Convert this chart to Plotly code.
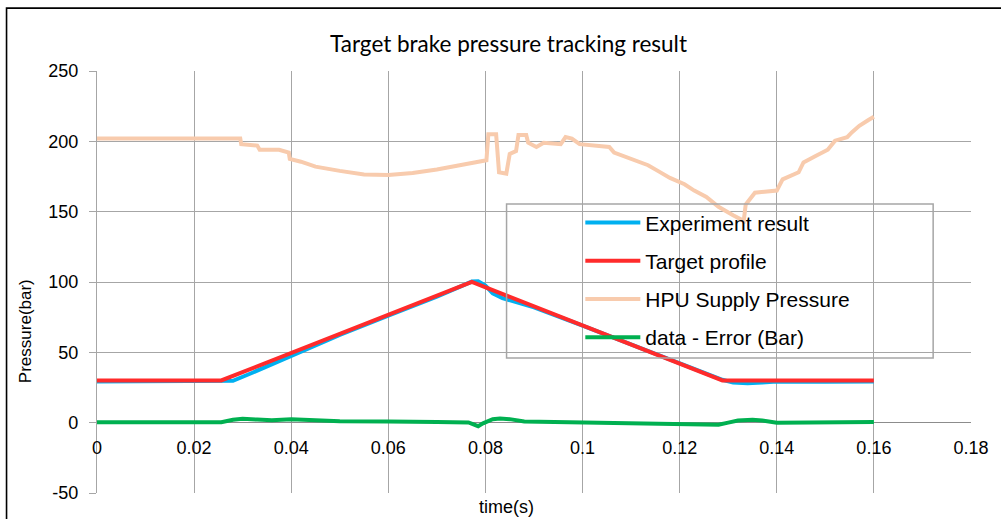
import plotly.graph_objects as go

# ---------------- data ----------------
target_t = [0.0, 0.0256, 0.0772, 0.1288, 0.16]
target_p = [30, 30, 100, 30, 30]

exp_t = [0.0, 0.0256, 0.028, 0.032, 0.036, 0.040, 0.045, 0.050, 0.060, 0.070, 0.0772,
         0.0785, 0.0800, 0.0815, 0.0835, 0.086, 0.090, 0.100, 0.110, 0.120, 0.125,
         0.1288, 0.131, 0.134, 0.137, 0.140, 0.150, 0.160]
exp_p = [29.2, 29.2, 29.8, 35.5, 41.5, 47.5, 55.5, 62.4, 76.0, 89.5, 100.3,
         100.5, 97.5, 92.0, 88.5, 86.0, 82.0, 69.0, 55.5, 42.0, 35.3,
         30.5, 28.5, 28.0, 28.5, 29.3, 29.0, 29.2]

hpu_t = [0.0, 0.0295, 0.0297, 0.033, 0.0335, 0.0375, 0.0395, 0.0397, 0.042, 0.045,
         0.050, 0.055, 0.060, 0.065, 0.070, 0.075, 0.0795, 0.0802, 0.0806, 0.0822,
         0.0828, 0.0843, 0.085, 0.0863, 0.0868, 0.0884, 0.0888, 0.0905, 0.092, 0.0945,
         0.0955, 0.0965, 0.0978, 0.0994, 0.1055, 0.1065, 0.110, 0.1135, 0.1155, 0.118,
         0.121, 0.123, 0.1255, 0.128, 0.131, 0.1325, 0.1332, 0.1336, 0.1355, 0.140,
         0.1412, 0.1445, 0.1455, 0.148, 0.1505, 0.152, 0.1545, 0.1555, 0.157, 0.1588,
         0.160]
hpu_p = [202, 202, 198, 197, 194, 194, 192, 187.5, 185.5, 182,
         179, 176.5, 176, 177.5, 180, 183, 186, 186.5, 205, 205,
         178, 177, 191, 193, 204.5, 204.5, 199, 196, 199, 198,
         198, 203, 202, 198, 196, 192, 187.5, 183, 179, 174,
         169.5, 165, 160.5, 153.5, 147.5, 145, 143.5, 155, 163.5, 165,
         173, 178, 185, 189.5, 194, 200.5, 203, 206.5, 211, 215,
         217.5]

err_t = [0.0, 0.0256, 0.028, 0.030, 0.033, 0.036, 0.040, 0.043, 0.050, 0.060,
         0.065, 0.070, 0.0765, 0.0785, 0.0795, 0.0815, 0.083, 0.085, 0.088, 0.095,
         0.100, 0.110, 0.120, 0.128, 0.130, 0.132, 0.135, 0.137, 0.140, 0.145, 0.160]
err_p = [0.3, 0.3, 2.0, 2.8, 2.2, 1.8, 2.5, 2.0, 1.0, 0.8,
         1.0, 0.5, 0.2, -2.5, -0.5, 2.5, 3.0, 2.5, 0.8, 0.5,
         0.3, -0.5, -1.2, -1.5, 0.0, 1.5, 2.0, 1.5, 0.0, 0.2, 0.5]

x_ticks = [0, 0.02, 0.04, 0.06, 0.08, 0.1, 0.12, 0.14, 0.16, 0.18]
x_ticktext = ["0", "0.02", "0.04", "0.06", "0.08", "0.1", "0.12", "0.14", "0.16", "0.18"]
y_ticks = [-50, 0, 50, 100, 150, 200, 250]
y_ticktext = ["-50", "0", "50", "100", "150", "200", "250"]

GRID = "#A6A6A6"
TICKFONT = dict(family="Liberation Sans, Arial, sans-serif", size=18, color="#000000")

fig = go.Figure()
fig.add_trace(go.Scatter(x=exp_t, y=exp_p, mode="lines", name="Experiment result",
                         line=dict(color="#00B0F0", width=4), legendgroup="a"))
fig.add_trace(go.Scatter(x=target_t, y=target_p, mode="lines", name="Target profile",
                         line=dict(color="#FF2B2B", width=4), legendgroup="b"))
fig.add_trace(go.Scatter(x=hpu_t, y=hpu_p, mode="lines", name="HPU Supply Pressure",
                         line=dict(color="#F8CBAD", width=4), legendgroup="c"))
fig.add_trace(go.Scatter(x=err_t, y=err_p, mode="lines", name="data - Error (Bar)",
                         line=dict(color="#00B050", width=4), legendgroup="d"))

fig.update_layout(
    width=1001, height=519,
    margin=dict(l=97, r=27, t=71, b=26),
    paper_bgcolor="#FFFFFF", plot_bgcolor="#FFFFFF",
    title=dict(text="Target brake pressure tracking result", x=0.508, xanchor="center",
               y=0.915, yanchor="middle",
               font=dict(family="Lato, sans-serif", size=22.5, color="#000000")),
    xaxis=dict(range=[0, 0.18], tickvals=x_ticks, ticktext=x_ticktext,
               showgrid=True, gridcolor=GRID, gridwidth=1.3,
               anchor="free", position=1/6, showline=False, zeroline=False,
               ticks="", ticklabelstandoff=12, tickfont=TICKFONT),
    yaxis=dict(range=[-50, 250], tickvals=y_ticks, ticktext=y_ticktext,
               showgrid=True, gridcolor=GRID, gridwidth=1.3,
               zeroline=True, zerolinecolor="#8C8C8C", zerolinewidth=1.3,
               showline=True, linecolor=GRID, linewidth=1.3,
               ticks="outside", ticklen=7, tickcolor=GRID, tickwidth=1.3,
               ticklabelstandoff=7, tickfont=TICKFONT),
    showlegend=True,
    legend=dict(x=0.553, y=0.689, xanchor="left", yanchor="top",
                bgcolor="rgba(0,0,0,0)", borderwidth=0, itemwidth=55,
                traceorder="grouped", tracegroupgap=8,
                font=dict(family="Liberation Sans, Arial, sans-serif", size=21, color="#000000")),
    shapes=[
        dict(type="rect", xref="paper", yref="paper", x0=0.4686, x1=0.9567, y0=0.3199, y1=0.6848,
             line=dict(color="#A6A6A6", width=1.5), fillcolor="rgba(0,0,0,0)", layer="above"),
        dict(type="rect", xref="paper", yref="paper", x0=-0.1035, x1=1.05, y0=-0.2, y1=1.149,
             line=dict(color="#000000", width=1.6), fillcolor="rgba(0,0,0,0)", layer="above"),
    ],
    annotations=[
        dict(text="Pressure(bar)", xref="paper", yref="paper", x=-0.0815, y=0.383,
             textangle=-90, showarrow=False, xanchor="center", yanchor="middle",
             font=dict(family="Liberation Sans, Arial, sans-serif", size=17, color="#000000")),
        dict(text="time(s)", xref="paper", yref="paper", x=0.468, y=-0.033,
             showarrow=False, xanchor="center", yanchor="middle",
             font=dict(family="Liberation Sans, Arial, sans-serif", size=18, color="#000000")),
    ],
)

fig.write_html("out.html", config={"displayModeBar": False},
               post_script="document.body.style.margin='0';document.body.style.padding='0';")
